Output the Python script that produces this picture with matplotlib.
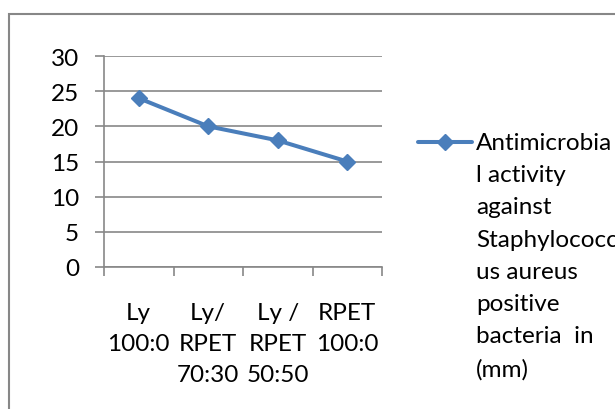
import numpy as np
import matplotlib
matplotlib.use("Agg")
import matplotlib.pyplot as plt
from matplotlib.lines import Line2D
from matplotlib.patches import Rectangle

## data
categories = ["Ly\n100:0", "Ly/\nRPET\n70:30", "Ly /\nRPET\n50:50", "RPET\n100:0"]
zone_mm = [24, 20, 18, 15]
y_ticks = [0, 5, 10, 15, 20, 25, 30]
legend_label = ("Antimicrobia\nl activity\nagainst\nStaphylococc\nus aureus\n"
                "positive\nbacteria  in\n(mm)")

blue = "#4A7EBB"
gray = "#878787"
fsize = 17.5

plt.rcParams["font.family"] = ["Lato", "DejaVu Sans"]

fig = plt.figure(figsize=(6.15, 4.10), dpi=100)
ax = fig.add_axes([104 / 615, 1 - 268 / 410, 278 / 615, 211 / 410])

x = np.arange(len(categories))
ax.plot(x, zone_mm, color=blue, lw=2.9, marker="D", markersize=8.5,
        mec=blue, mew=1, solid_capstyle="round", zorder=3)

ax.set_xlim(-0.5, len(categories) - 0.5)
ax.set_ylim(y_ticks[0], y_ticks[-1])
ax.set_yticks(y_ticks)
ax.set_xticks(x)
ax.set_xticklabels(categories, fontsize=fsize, linespacing=1.57)
ax.set_xticks(np.arange(-0.5, len(categories), 1), minor=True)
ax.tick_params(axis="x", which="major", length=0, pad=19 + 6.5)
ax.tick_params(axis="x", which="minor", length=6.5, width=1.2, color=gray, direction="out")
ax.tick_params(axis="y", length=6.5, width=1.2, color=gray, direction="out",
               pad=11.5, labelsize=fsize)

ax.grid(axis="y", color=gray, lw=1.2)
ax.set_axisbelow(True)
for side in ["top", "right"]:
    ax.spines[side].set_visible(False)
for side in ["left", "bottom"]:
    ax.spines[side].set_color(gray)
    ax.spines[side].set_linewidth(1.2)

## legend drawn by hand so the marker sits on the first text line
fig.add_artist(Line2D([418 / 615, 472 / 615], [1 - 143 / 410, 1 - 143 / 410],
                      transform=fig.transFigure, color=blue, lw=2.9,
                      solid_capstyle="round"))
fig.add_artist(Line2D([445 / 615], [1 - 143 / 410], transform=fig.transFigure,
                      color=blue, marker="D", markersize=8.5, mec=blue, mew=1))
fig.text(476 / 615, 1 - 133 / 410, legend_label, fontsize=fsize, va="top",
         ha="left", linespacing=1.66)

## chart area border (runs off the right and bottom edges)
fig.patches.append(Rectangle((9 / 615, -0.1), 1.2, 1 - 15 / 410 + 0.1,
                             transform=fig.transFigure, fill=False,
                             edgecolor=gray, lw=1.5))

fig.savefig("out.png", dpi=100)
